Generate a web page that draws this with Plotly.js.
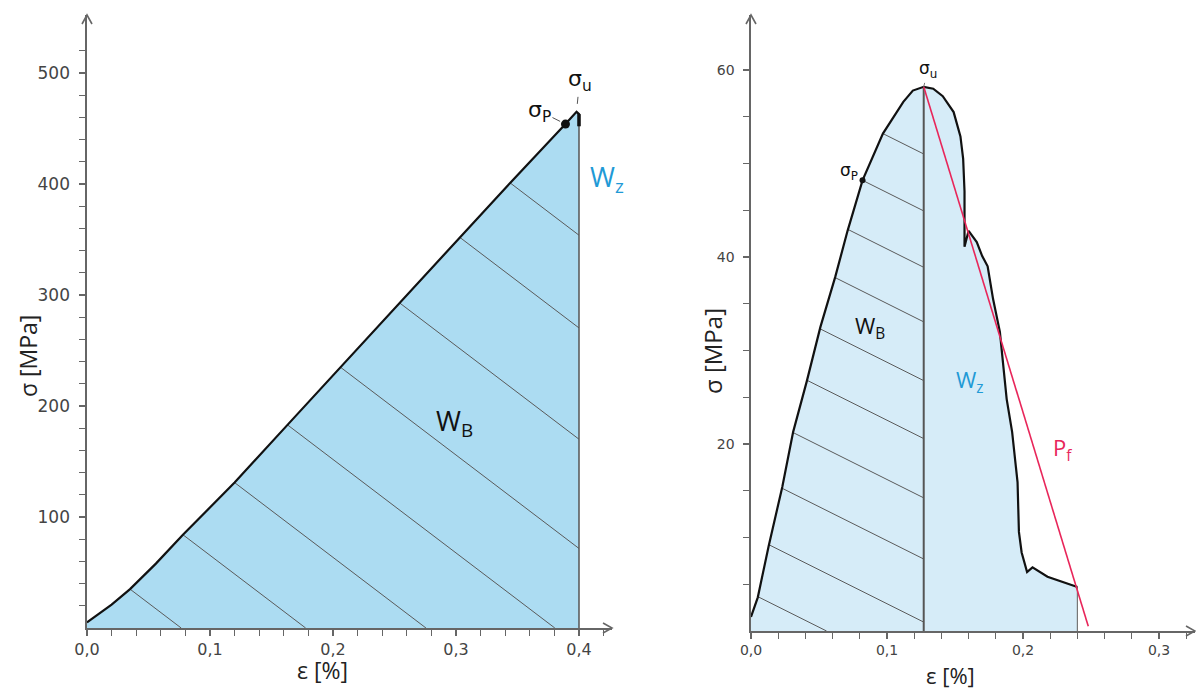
<!DOCTYPE html>
<html>
<head>
<meta charset="utf-8">
<script src="https://cdn.plot.ly/plotly-3.0.1.min.js"></script>
<style>html,body{margin:0;padding:0;background:#fff;}#chart{width:1196px;height:689px;}</style>
</head>
<body>
<div id="chart"></div>
<script>
// ---------- LEFT chart data (ε in %, σ in MPa) ----------
const L_eps = [0, 0.010, 0.020, 0.035, 0.056, 0.078, 0.120, 0.163, 0.206, 0.254, 0.303, 0.344, 0.389, 0.398, 0.400, 0.400];
const L_sig = [5, 13, 21, 35, 58, 84, 131, 183, 235, 293, 352, 401, 454, 465, 463, 452];
const L_pEps = [0.389];            // σP point
const L_pSig = [454];
const L_hatchEps = [0.035, 0.078, 0.120, 0.163, 0.206, 0.254, 0.303, 0.344]; // hatch starts on curve
const L_xMajor = [0, 0.1, 0.2, 0.3, 0.4];
const L_xLabels = ['0,0', '0,1', '0,2', '0,3', '0,4'];
const L_yMajor = [100, 200, 300, 400, 500];
const L_yLabels = ['100', '200', '300', '400', '500'];

// ---------- RIGHT chart data ----------
const R_eps = [0, 0.005, 0.013, 0.023, 0.031, 0.041, 0.051, 0.062, 0.071, 0.082, 0.097, 0.112, 0.119, 0.127,
               0.134, 0.141, 0.149, 0.154, 0.156, 0.157, 0.157, 0.157, 0.160, 0.166, 0.170, 0.174, 0.178,
               0.183, 0.185, 0.188, 0.192, 0.196, 0.197, 0.199, 0.203, 0.207, 0.218, 0.240];
const R_sig = [1.5, 3.6, 9.1, 15.4, 21.3, 26.7, 32.5, 37.9, 42.8, 48.2, 53.2, 56.6, 57.8, 58.2,
               58.0, 57.2, 55.5, 52.9, 50.5, 47.0, 44.8, 41.1, 42.8, 41.6, 40.1, 39.0, 35.5,
               32.0, 29.1, 24.8, 21.3, 15.9, 10.6, 8.4, 6.3, 6.8, 5.8, 4.7];
const R_pEps = [0.082];
const R_pSig = [48.2];
const R_pfEps = [0.127, 0.248];    // P_f line
const R_pfSig = [58.2, 0.5];
const R_hatchEps = [0.0051, 0.0132, 0.0228, 0.0309, 0.0412, 0.0507, 0.0618, 0.0713, 0.082, 0.097];
const R_xMajor = [0, 0.1, 0.2, 0.3];
const R_xLabels = ['0,0', '0,1', '0,2', '0,3'];
const R_yMajor = [20, 40, 60];
const R_yLabels = ['20', '40', '60'];

// ---------- style ----------
const FILL_L = '#acdcf2', FILL_R = '#d6ecf8', HATCH = '#5a5a5a', AX = '#666666';
const BLUE = '#1f9ad6', RED = '#e8265a';
const W = 1196, H = 689;
const TICKFONT = {family: 'DejaVu Sans, Verdana, sans-serif', color: '#444'};
const TITLEFONT = {family: 'Open Sans, sans-serif', color: '#222'};

// pixel geometry of the two panels
const L = {x0: 87, x1: 612, y0: 628, y1: 15, pxPerX: 1230, pxPerY: 1.11};
const R = {x0: 751, x1: 1195, y0: 631, y1: 15, pxPerX: 1360, pxPerY: 9.35};

function interpRising(xs, ys, x, last) {
  for (let i = 0; i < last; i++) {
    if (x >= xs[i] && x <= xs[i + 1]) {
      const t = (x - xs[i]) / (xs[i + 1] - xs[i]);
      return ys[i] + t * (ys[i + 1] - ys[i]);
    }
  }
  return ys[last];
}
function hatchTraces(starts, xs, ys, last, slope, xEdge, xref, yref) {
  const hx = [], hy = [];
  starts.forEach(x0 => {
    const y0 = interpRising(xs, ys, x0, last);
    let x1 = x0 - y0 / slope, y1 = 0;
    if (x1 > xEdge) { x1 = xEdge; y1 = y0 + slope * (xEdge - x0); }
    hx.push(x0, x1, null); hy.push(y0, y1, null);
  });
  return {x: hx, y: hy, xaxis: xref, yaxis: yref, mode: 'lines', line: {color: HATCH, width: 1}, hoverinfo: 'skip'};
}
function minorVals(step, max, majors, dec) {
  const v = [];
  for (let i = 1; i * step <= max + 1e-9; i++) {
    const val = +(i * step).toFixed(dec);
    if (!majors.some(m => Math.abs(m - val) < 1e-9)) v.push(val);
  }
  return v;
}

const Lpeak = L_sig.indexOf(Math.max(...L_sig));
const Rpeak = R_sig.indexOf(Math.max(...R_sig));
const Llast = L_eps.length - 1, Rlast = R_eps.length - 1;

const traces = [
  // left
  {x: L_eps, y: L_sig, xaxis: 'x', yaxis: 'y', mode: 'lines', fill: 'tozeroy', fillcolor: FILL_L, line: {width: 0}, hoverinfo: 'skip'},
  hatchTraces(L_hatchEps, L_eps, L_sig, Lpeak, -842, L_eps[Llast], 'x', 'y'),
  {x: [L_eps[Llast], L_eps[Llast]], y: [0, L_sig[Llast]], xaxis: 'x', yaxis: 'y', mode: 'lines', line: {color: '#555', width: 1.5}, hoverinfo: 'skip'},
  {x: L_eps, y: L_sig, xaxis: 'x', yaxis: 'y', mode: 'lines', line: {color: '#111', width: 2.2}, hoverinfo: 'skip'},
  {x: L_eps.slice(Lpeak + 1), y: L_sig.slice(Lpeak + 1), xaxis: 'x', yaxis: 'y', mode: 'lines', line: {color: '#111', width: 3.5}, hoverinfo: 'skip'},
  {x: L_pEps, y: L_pSig, xaxis: 'x', yaxis: 'y', mode: 'markers', marker: {color: '#111', size: 9}, hoverinfo: 'skip'},
  // right
  {x: R_eps, y: R_sig, xaxis: 'x2', yaxis: 'y2', mode: 'lines', fill: 'tozeroy', fillcolor: FILL_R, line: {width: 0}, hoverinfo: 'skip'},
  hatchTraces(R_hatchEps, R_eps, R_sig, Rpeak, -72.7, R_eps[Rpeak], 'x2', 'y2'),
  {x: [R_eps[Rpeak], R_eps[Rpeak]], y: [0, R_sig[Rpeak]], xaxis: 'x2', yaxis: 'y2', mode: 'lines', line: {color: '#555', width: 2}, hoverinfo: 'skip'},
  {x: [R_eps[Rlast], R_eps[Rlast]], y: [0, R_sig[Rlast]], xaxis: 'x2', yaxis: 'y2', mode: 'lines', line: {color: '#777', width: 1.2}, hoverinfo: 'skip'},
  {x: R_eps, y: R_sig, xaxis: 'x2', yaxis: 'y2', mode: 'lines', line: {color: '#111', width: 2.2}, hoverinfo: 'skip'},
  {x: R_pfEps, y: R_pfSig, xaxis: 'x2', yaxis: 'y2', mode: 'lines', line: {color: RED, width: 1.6}, hoverinfo: 'skip'},
  {x: R_pEps, y: R_pSig, xaxis: 'x2', yaxis: 'y2', mode: 'markers', marker: {color: '#111', size: 6}, hoverinfo: 'skip'}
];

const Lxr = [0, (L.x1 - L.x0) / L.pxPerX], Lyr = [0, (L.y0 - L.y1) / L.pxPerY];
const Rxr = [0, (R.x1 - R.x0) / R.pxPerX], Ryr = [0, (R.y0 - R.y1) / R.pxPerY];
const Lxd = [L.x0 / W, L.x1 / W], Lyd = [1 - L.y0 / H, 1 - L.y1 / H];
const Rxd = [R.x0 / W, R.x1 / W], Ryd = [1 - R.y0 / H, 1 - R.y1 / H];

const LxMin = minorVals(0.02, 0.42, L_xMajor, 2);
const LyMin = minorVals(20, 520, L_yMajor, 0);
const RxMin = minorVals(0.02, 0.32, R_xMajor, 2);
const RyMin = minorVals(5, 60, R_yMajor, 0);

function axis(dom, rng, major, labels, minor, anchor, font, extra) {
  return Object.assign({
    domain: dom, range: rng, anchor: anchor, tickmode: 'array', tickvals: major, ticktext: labels,
    ticks: 'outside', ticklen: 6, tickwidth: 1.2, tickcolor: AX, showline: true, linecolor: AX, linewidth: 1.6,
    minor: {tickmode: 'array', tickvals: minor, ticks: 'outside', ticklen: 6, tickwidth: 1.2, tickcolor: AX, showgrid: false},
    showgrid: false, zeroline: false, tickfont: font, fixedrange: true
  }, extra || {});
}
function overlay(dom, rng, major, minor, anchor, over) {
  return {domain: dom, range: rng, anchor: anchor, overlaying: over, tickmode: 'array', tickvals: major,
    ticks: 'inside', ticklen: 6, tickwidth: 1.2, tickcolor: AX, showticklabels: false, showline: false,
    minor: {tickmode: 'array', tickvals: minor, ticks: 'inside', ticklen: 6, tickwidth: 1.2, tickcolor: AX, showgrid: false},
    showgrid: false, zeroline: false, fixedrange: true};
}
function arrowShape(xa, ya, path) {
  return {type: 'path', xref: 'paper', yref: 'paper', xsizemode: 'pixel', ysizemode: 'pixel', xanchor: xa, yanchor: ya,
    path: path, line: {color: AX, width: 1.6}};
}
function title(text, x, y, size, angle) {
  return {xref: 'paper', yref: 'paper', x: x / W, y: 1 - y / H, text: text, showarrow: false, textangle: angle || 0,
    xanchor: 'center', yanchor: 'middle', borderpad: 0, font: Object.assign({size: size}, TITLEFONT)};
}

const layout = {
  width: W, height: H, margin: {l: 0, r: 0, t: 0, b: 0}, paper_bgcolor: '#fff', plot_bgcolor: 'rgba(0,0,0,0)',
  showlegend: false, separators: ',.',
  xaxis: axis(Lxd, Lxr, L_xMajor, L_xLabels, LxMin, 'y', Object.assign({size: 16}, TICKFONT), {ticklabelstandoff: 0}),
  yaxis: axis(Lyd, Lyr, L_yMajor, L_yLabels, LyMin, 'x', Object.assign({size: 17}, TICKFONT), {ticklabelstandoff: 6}),
  xaxis2: axis(Rxd, Rxr, R_xMajor, R_xLabels, RxMin, 'y2', Object.assign({size: 14}, TICKFONT), {ticklabelstandoff: 0}),
  yaxis2: axis(Ryd, Ryr, R_yMajor, R_yLabels, RyMin, 'x2', Object.assign({size: 14}, TICKFONT), {ticklabelstandoff: 6}),
  xaxis3: overlay(Lxd, Lxr, L_xMajor, LxMin, 'y', 'x'),
  yaxis3: overlay(Lyd, Lyr, L_yMajor, LyMin, 'x', 'y'),
  xaxis4: overlay(Rxd, Rxr, R_xMajor, RxMin, 'y2', 'x2'),
  yaxis4: overlay(Ryd, Ryr, R_yMajor, RyMin, 'x2', 'y2'),
  shapes: [
    arrowShape(Lxd[1], Lyd[0], 'M -9,5 L 0,0 L -9,-5'),
    arrowShape(Lxd[0], Lyd[1], 'M -5,-9 L 0,0 L 5,-9'),
    arrowShape(Rxd[1], Ryd[0], 'M -9,5 L 0,0 L -9,-5'),
    arrowShape(Rxd[0], Ryd[1], 'M -5,-9 L 0,0 L 5,-9')
  ],
  annotations: [
    // axis titles
    title('ε [%]', 322, 670, 23),
    title('σ [MPa]', 28, 356, 23, -90),
    title('ε [%]', 950, 675, 22),
    title('σ [MPa]', 712, 351, 24, -90),
    // labels
    {xref: 'x', yref: 'y', x: L_pEps[0], y: L_pSig[0], text: 'σ<sub>P</sub>', showarrow: true, arrowhead: 0, arrowwidth: 1,
     arrowcolor: '#555', ax: -26, ay: -13, standoff: 6, font: {family: 'DejaVu Sans', size: 22, color: '#111'}},
    {xref: 'x', yref: 'y', x: L_eps[Lpeak], y: L_sig[Lpeak], text: 'σ<sub>u</sub>', showarrow: true, arrowhead: 0, arrowwidth: 1,
     arrowcolor: '#555', ax: 3, ay: -31, standoff: 8, font: {family: 'DejaVu Sans', size: 22, color: '#111'}},
    {xref: 'x', yref: 'y', x: 0.423, y: 405, text: 'W<sub>z</sub>', showarrow: false, font: {family: 'Open Sans', size: 27, color: BLUE}},
    {xref: 'x', yref: 'y', x: 0.299, y: 185, text: 'W<sub>B</sub>', showarrow: false, font: {family: 'Open Sans', size: 27, color: '#111'}},
    {xref: 'x2', yref: 'y2', x: R_eps[Rpeak], y: R_sig[Rpeak], text: 'σ<sub>u</sub>', showarrow: true, arrowhead: 0, arrowwidth: 1,
     arrowcolor: '#777', ax: 4, ay: -17, standoff: 0, font: {family: 'DejaVu Sans', size: 17, color: '#111'}},
    {xref: 'x2', yref: 'y2', x: R_pEps[0], y: R_pSig[0], text: 'σ<sub>P</sub>', showarrow: false, xanchor: 'right', xshift: -3, yshift: 9,
     font: {family: 'DejaVu Sans', size: 17, color: '#111'}},
    {xref: 'x2', yref: 'y2', x: 0.0875, y: 32.5, text: 'W<sub>B</sub>', showarrow: false, font: {family: 'Open Sans', size: 22, color: '#111'}},
    {xref: 'x2', yref: 'y2', x: 0.161, y: 26.7, text: 'W<sub>z</sub>', showarrow: false, font: {family: 'Open Sans', size: 22, color: BLUE}},
    {xref: 'x2', yref: 'y2', x: 0.229, y: 19.5, text: 'P<sub>f</sub>', showarrow: false, font: {family: 'Open Sans', size: 22, color: RED}}
  ]
};

Plotly.newPlot('chart', traces, layout, {displayModeBar: false, staticPlot: true});
</script>
</body>
</html>
